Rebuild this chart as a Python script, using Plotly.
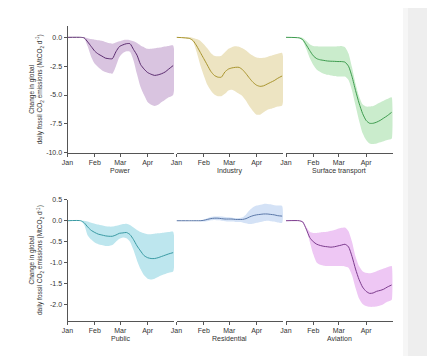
import plotly.graph_objects as go

# ---- data (2020) ----
dates = ["2020-01-01", "2020-01-16", "2020-01-20", "2020-01-24", "2020-01-28", "2020-02-01",
         "2020-02-05", "2020-02-09", "2020-02-13", "2020-02-17", "2020-02-21", "2020-02-25",
         "2020-02-29", "2020-03-04", "2020-03-08", "2020-03-12", "2020-03-16", "2020-03-20",
         "2020-03-24", "2020-03-28", "2020-04-01", "2020-04-05", "2020-04-09", "2020-04-13",
         "2020-04-17", "2020-04-21", "2020-04-25", "2020-04-30"]

power_mid = [0, 0, -0.05, -0.4, -0.8, -1.2, -1.45, -1.62, -1.8, -1.85, -1.85, -1.25, -0.8, -0.65,
             -0.55, -0.55, -1.05, -1.55, -2.35, -2.75, -3.05, -3.2, -3.3, -3.25, -3.15, -3.0, -2.75, -2.45]
power_hi = [0, 0, 0, -0.08, -0.15, -0.2, -0.25, -0.3, -0.4, -0.5, -0.55, -0.45, -0.35, -0.25,
            -0.22, -0.25, -0.35, -0.5, -0.7, -0.85, -1.0, -1.0, -0.95, -0.9, -0.85, -0.8, -0.75, -0.7]
power_lo = [0, 0, -0.1, -0.8, -1.7, -2.3, -2.6, -2.85, -3.0, -3.1, -3.15, -2.5, -1.7, -1.35,
            -1.2, -1.25, -2.0, -3.2, -4.3, -5.0, -5.6, -5.85, -5.95, -5.85, -5.6, -5.4, -5.2, -5.0]

industry_mid = [0, -0.1, -0.3, -0.75, -1.3, -1.85, -2.4, -2.95, -3.3, -3.45, -3.45, -3.0, -2.75, -2.65,
                -2.6, -2.6, -2.8, -3.15, -3.55, -3.9, -4.15, -4.25, -4.2, -4.05, -3.9, -3.75, -3.55, -3.35]
industry_hi = [0, 0, -0.05, -0.15, -0.3, -0.6, -0.95, -1.35, -1.6, -1.65, -1.6, -1.3, -1.0, -0.85,
               -0.78, -0.82, -0.95, -1.15, -1.4, -1.6, -1.75, -1.8, -1.78, -1.7, -1.6, -1.5, -1.42, -1.35]
industry_lo = [0, -0.15, -0.4, -1.3, -2.4, -3.3, -4.1, -4.6, -4.95, -5.1, -5.1, -4.9, -4.6, -4.55,
               -4.7, -4.9, -5.1, -5.5, -6.0, -6.4, -6.7, -6.7, -6.5, -6.3, -6.2, -6.1, -6.0, -5.9]

surface_mid = [0, -0.05, -0.2, -0.65, -1.15, -1.6, -1.85, -1.95, -2.0, -2.05, -2.07, -2.08, -2.1, -2.1,
               -2.15, -2.5, -3.4, -4.6, -5.7, -6.6, -7.2, -7.45, -7.45, -7.35, -7.2, -7.0, -6.8, -6.5]
surface_hi = [0, 0, -0.05, -0.3, -0.6, -0.75, -0.78, -0.8, -0.8, -0.8, -0.8, -0.8, -0.78, -0.75,
              -0.85, -1.4, -2.6, -4.0, -5.1, -5.8, -6.0, -6.0, -5.95, -5.8, -5.65, -5.5, -5.35, -5.2]
surface_lo = [0, -0.05, -0.3, -1.0, -1.8, -2.4, -2.8, -3.0, -3.15, -3.25, -3.3, -3.35, -3.4, -3.4,
              -3.4, -3.7, -4.6, -5.9, -7.2, -8.3, -8.9, -9.2, -9.25, -9.2, -9.1, -9.0, -8.9, -8.8]

public_mid = [0, 0, -0.05, -0.15, -0.23, -0.28, -0.32, -0.34, -0.36, -0.37, -0.37, -0.34, -0.3, -0.29,
              -0.28, -0.33, -0.45, -0.6, -0.72, -0.83, -0.88, -0.9, -0.9, -0.88, -0.85, -0.82, -0.79, -0.76]
public_hi = [0, 0, 0, -0.02, -0.05, -0.07, -0.09, -0.11, -0.13, -0.14, -0.14, -0.12, -0.1, -0.08,
             -0.07, -0.1, -0.16, -0.22, -0.27, -0.3, -0.32, -0.32, -0.31, -0.3, -0.29, -0.28, -0.27, -0.26]
public_lo = [0, 0, -0.1, -0.35, -0.45, -0.52, -0.56, -0.58, -0.6, -0.6, -0.58, -0.5, -0.43, -0.4,
             -0.42, -0.5, -0.7, -0.95, -1.15, -1.3, -1.38, -1.4, -1.38, -1.34, -1.3, -1.27, -1.24, -1.21]

resid_mid = [0, 0, 0, 0, 0, 0.01, 0.03, 0.05, 0.06, 0.06, 0.05, 0.04, 0.04, 0.04,
             0.03, 0.03, 0.03, 0.05, 0.09, 0.12, 0.14, 0.15, 0.16, 0.16, 0.15, 0.14, 0.12, 0.11]
resid_hi = [0, 0, 0, 0, 0.01, 0.03, 0.06, 0.09, 0.1, 0.1, 0.1, 0.09, 0.08, 0.07,
            0.06, 0.06, 0.08, 0.15, 0.25, 0.32, 0.36, 0.38, 0.4, 0.4, 0.39, 0.37, 0.36, 0.35]
resid_lo = [0, 0, 0, 0, -0.01, -0.02, -0.01, 0.01, 0.02, 0.01, 0.0, -0.01, -0.02, -0.02,
            -0.03, -0.03, -0.04, -0.06, -0.08, -0.07, -0.05, -0.03, -0.01, 0.0, -0.01, -0.02, -0.04, -0.05]

aviation_mid = [0, 0, -0.03, -0.2, -0.4, -0.5, -0.56, -0.59, -0.61, -0.62, -0.63, -0.62, -0.6, -0.58,
                -0.56, -0.62, -0.85, -1.15, -1.4, -1.58, -1.68, -1.73, -1.72, -1.68, -1.66, -1.63, -1.58, -1.53]
aviation_hi = [0, 0, -0.01, -0.15, -0.26, -0.29, -0.29, -0.28, -0.27, -0.26, -0.24, -0.22, -0.19, -0.17,
               -0.16, -0.25, -0.5, -0.85, -1.08, -1.2, -1.24, -1.25, -1.23, -1.2, -1.17, -1.14, -1.11, -1.08]
aviation_lo = [0, 0, -0.03, -0.2, -0.5, -0.8, -1.0, -1.05, -1.07, -1.08, -1.08, -1.08, -1.08, -1.08,
               -1.09, -1.12, -1.3, -1.6, -1.85, -1.98, -2.03, -2.05, -2.05, -2.04, -2.02, -1.98, -1.93, -1.89]

sectors = ["Power", "Industry", "Surface transport", "Public", "Residential", "Aviation"]
mids = [power_mid, industry_mid, surface_mid, public_mid, resid_mid, aviation_mid]
his = [power_hi, industry_hi, surface_hi, public_hi, resid_hi, aviation_hi]
los = [power_lo, industry_lo, surface_lo, public_lo, resid_lo, aviation_lo]

month_ticks = ["2020-01-01", "2020-02-01", "2020-03-01", "2020-04-01"]
month_labels = ["Jan", "Feb", "Mar", "Apr"]
top_ticks = [0, -2.5, -5, -7.5, -10]
top_labels = ["0.0", "-2.5", "-5.0", "-7.5", "-10.0"]
bot_ticks = [0.5, 0, -0.5, -1, -1.5, -2]
bot_labels = ["0.5", "0.0", "-0.5", "-1.0", "-1.5", "-2.0"]

# ---- styles ----
line_colors = ["#5b2c6f", "#a8942e", "#3d9b4e", "#3a9aa3", "#5b78a8", "#7b3b8c"]
fill_colors = ["#d9c4e0", "#ede4c2", "#caeccc", "#bde6ee", "#d4e2f6", "#eec7f4"]

# page body has an 8px margin, so the figure is drawn 8px in from the window edge
OFF = 8
W, H = 435 - OFF, 356 - OFF
def fx(p):
    return (p - OFF) / W
def fy(p):
    return 1 - (p - OFF) / H

col_px = [(67.5, 174.0), (176.5, 283.0), (286.0, 392.5)]
row_px = [(25.8, 152.7), (199.5, 320.7)]
row_range = [[-10, 1.0], [-2.38, 0.505]]

fig = go.Figure()
FONT = "Liberation Sans, Arial, sans-serif"
axis_col = "#555555"

for i, name in enumerate(sectors):
    r, c = divmod(i, 3)
    n = i + 1
    xa = "x" if n == 1 else f"x{n}"
    ya = "y" if n == 1 else f"y{n}"
    fig.add_trace(go.Scatter(
        x=dates + dates[::-1], y=his[i] + los[i][::-1],
        fill="toself", fillcolor=fill_colors[i], line=dict(width=0, shape="spline", smoothing=0.6),
        mode="lines", hoverinfo="skip", showlegend=False, xaxis=xa, yaxis=ya))
    fig.add_trace(go.Scatter(
        x=dates, y=mids[i], mode="lines",
        line=dict(color=line_colors[i], width=1, shape="spline", smoothing=0.6),
        showlegend=False, xaxis=xa, yaxis=ya))

    xkey = "xaxis" if n == 1 else f"xaxis{n}"
    ykey = "yaxis" if n == 1 else f"yaxis{n}"
    fig.layout[xkey] = dict(
        domain=[fx(col_px[c][0]), fx(col_px[c][1])], anchor=ya, automargin=False,
        range=["2020-01-01", "2020-05-01"], type="date",
        tickvals=month_ticks, ticktext=month_labels,
        showline=True, linecolor=axis_col, linewidth=1, ticks="outside", ticklen=3,
        tickcolor=axis_col, showgrid=False, zeroline=False,
        tickfont=dict(family=FONT, size=7, color="#333333"), fixedrange=True)
    fig.layout[ykey] = dict(
        domain=[fy(row_px[r][1]), fy(row_px[r][0])], anchor=xa, automargin=False,
        range=row_range[r], showgrid=False, zeroline=False,
        tickvals=top_ticks if r == 0 else bot_ticks,
        ticktext=top_labels if r == 0 else bot_labels,
        showline=(c == 0), showticklabels=(c == 0), ticks="outside" if c == 0 else "",
        ticklen=3, linecolor=axis_col, linewidth=1, tickcolor=axis_col,
        tickfont=dict(family=FONT, size=7, color="#333333"), fixedrange=True)

    # sector label
    fig.add_annotation(x=(fx(col_px[c][0]) + fx(col_px[c][1])) / 2,
                       y=fy(row_px[r][1] + 18), xref="paper", yref="paper",
                       xanchor="center", yanchor="middle",
                       text=name, showarrow=False,
                       font=dict(family=FONT, size=7, color="#333333"))

# y-axis titles
for r in range(2):
    fig.add_annotation(x=fx(36), y=fy((row_px[r][0] + row_px[r][1]) / 2), xref="paper", yref="paper",
                       xanchor="center", yanchor="middle",
                       text="Change in global<br>daily fossil CO<sub>2</sub> emissions (MtCO<sub>2</sub> d<sup>-1</sup>)",
                       textangle=-90, showarrow=False,
                       font=dict(family=FONT, size=6.5, color="#333333"))

# grey strip at the right edge
fig.add_shape(type="rect", xref="paper", yref="paper", x0=fx(403), x1=fx(408), y0=0, y1=1,
              fillcolor="#f6f6f6", line=dict(width=0), layer="below")
fig.add_shape(type="rect", xref="paper", yref="paper", x0=fx(408), x1=1, y0=0, y1=1,
              fillcolor="#eeeeee", line=dict(width=0), layer="below")

fig.update_layout(width=W, height=H, margin=dict(l=0, r=0, t=0, b=0, autoexpand=False),
                  paper_bgcolor="white", plot_bgcolor="rgba(0,0,0,0)",
                  font=dict(family=FONT))

fig.write_html("out.html")
